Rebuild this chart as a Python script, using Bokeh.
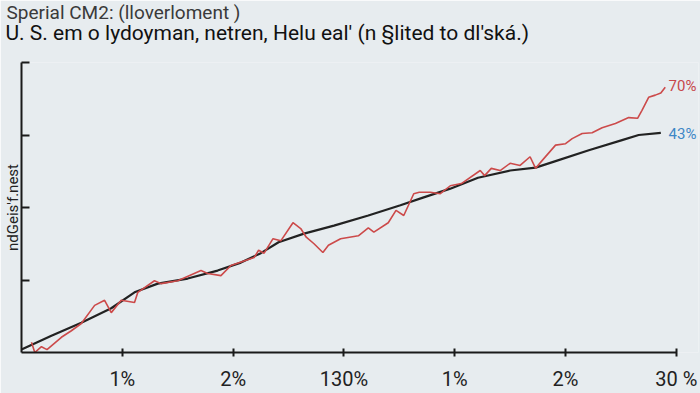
from bokeh.plotting import figure
from bokeh.models import Range1d, FixedTicker, Label, Title
from bokeh.embed import file_html
from bokeh.resources import INLINE

title_text = "Sperial CM2: (lloverloment )"
subtitle_text = "U. S. em o lydoyman, netren, Helu eal' (n \u00a7lited to dl'sk\u00e1.)"
y_axis_label = "ndGeis'f.nest"

x_ticks = [1, 2, 3, 4, 5, 6]
x_tick_labels = ["1%", "2%", "130%", "1%", "2%", "30 %"]
y_ticks = [1, 2, 3, 4]

black_x = [0.09, 0.36, 0.63, 0.90, 1.11, 1.32, 1.59, 1.86, 2.07, 2.25, 2.41, 2.64, 2.91,
           3.22, 3.51, 3.72, 3.96, 4.21, 4.50, 4.73, 4.91, 5.21, 5.51, 5.66, 5.86]
black_y = [0.04, 0.23, 0.41, 0.61, 0.83, 0.95, 1.02, 1.13, 1.24, 1.37, 1.52, 1.64, 1.75,
           1.89, 2.03, 2.14, 2.26, 2.41, 2.51, 2.55, 2.64, 2.79, 2.93, 3.00, 3.03]

red_x = [0.18, 0.21, 0.27, 0.32, 0.45, 0.54, 0.63, 0.75, 0.84, 0.90, 0.99, 1.11, 1.14, 1.29,
         1.35, 1.50, 1.71, 1.77, 1.89, 1.98, 2.19, 2.23, 2.28, 2.36, 2.43, 2.54, 2.61, 2.66,
         2.73, 2.81, 2.86, 2.97, 3.13, 3.22, 3.27, 3.40, 3.47, 3.54, 3.63, 3.68, 3.78, 3.87,
         3.96, 4.06, 4.23, 4.27, 4.33, 4.41, 4.50, 4.59, 4.68, 4.73, 4.79, 4.91, 5.00, 5.06,
         5.15, 5.24, 5.33, 5.45, 5.57, 5.65, 5.69, 5.75, 5.81, 5.86, 5.90]
red_y = [0.14, 0.00, 0.08, 0.04, 0.21, 0.30, 0.40, 0.65, 0.72, 0.55, 0.72, 0.69, 0.83, 0.99,
         0.95, 0.99, 1.13, 1.09, 1.06, 1.20, 1.31, 1.41, 1.37, 1.57, 1.54, 1.79, 1.71, 1.59,
         1.50, 1.38, 1.48, 1.57, 1.61, 1.72, 1.66, 1.79, 1.96, 1.89, 2.19, 2.21, 2.21, 2.19,
         2.30, 2.33, 2.51, 2.44, 2.54, 2.51, 2.61, 2.58, 2.70, 2.54, 2.65, 2.86, 2.88, 2.95,
         3.02, 3.03, 3.10, 3.16, 3.24, 3.23, 3.34, 3.52, 3.55, 3.58, 3.66]

red_label = "70%"
black_label = "43%"

BG = "#e7ecef"
FONT = "Roboto"

p = figure(width=700, height=393, output_backend="svg", toolbar_location=None,
           x_range=Range1d(0.09, 6.2), y_range=Range1d(0, 4),
           min_border_left=0, min_border_right=2, min_border_top=0, min_border_bottom=0)
p.title = None
p.background_fill_color = BG
p.border_fill_color = BG
p.outline_line_color = None
p.grid.visible = False

# trailing newline leaves a blank line as gap between the subtitle and the plot
p.add_layout(Title(text=subtitle_text + "\n", align="left", text_font=FONT, text_font_size="21px",
                   text_font_style="normal", text_color="#111111", text_line_height=0.8,
                   offset=-16, standoff=-4), "above")
p.add_layout(Title(text=title_text, align="left", text_font=FONT, text_font_size="19px",
                   text_font_style="normal", text_color="#3a3a3a", offset=-15, standoff=-4), "above")

p.line(black_x, black_y, line_color="#222222", line_width=2.2)
p.line(red_x, red_y, line_color="#cc4a4a", line_width=1.6)

p.add_layout(Label(x=5.93, y=3.67, text=red_label, text_color="#c8474b", text_font=FONT,
                   text_font_size="15px", text_baseline="middle"))
p.add_layout(Label(x=5.93, y=3.02, text=black_label, text_color="#3d87c6", text_font=FONT,
                   text_font_size="15px", text_baseline="middle"))

xa = p.xaxis[0]
xa.ticker = FixedTicker(ticks=x_ticks)
xa.bounds = (0.09, 6.0)
xa.major_label_overrides = {t: l for t, l in zip(x_ticks, x_tick_labels)}
xa.axis_line_color = "#1a1a1a"
xa.axis_line_width = 2
xa.major_tick_line_color = "#1a1a1a"
xa.major_tick_line_width = 2
xa.major_tick_in = 4
xa.major_tick_out = 4
xa.minor_tick_line_color = None
xa.major_label_standoff = 10
xa.major_label_text_font = FONT
xa.major_label_text_font_size = "20px"
xa.major_label_text_color = "#222222"

ya = p.yaxis[0]
ya.ticker = FixedTicker(ticks=y_ticks)
ya.major_label_overrides = {t: "" for t in y_ticks}
ya.axis_line_color = "#1a1a1a"
ya.axis_line_width = 2
ya.major_tick_line_color = "#1a1a1a"
ya.major_tick_line_width = 2
ya.major_tick_in = 8
ya.major_tick_out = 0
ya.minor_tick_line_color = None
ya.major_label_standoff = 0
ya.axis_label = y_axis_label
ya.axis_label_standoff = 0
ya.axis_label_text_font = FONT
ya.axis_label_text_font_size = "15px"
ya.axis_label_text_font_style = "normal"
ya.axis_label_text_color = "#222222"

open("out.html", "w").write(file_html(p, INLINE))
